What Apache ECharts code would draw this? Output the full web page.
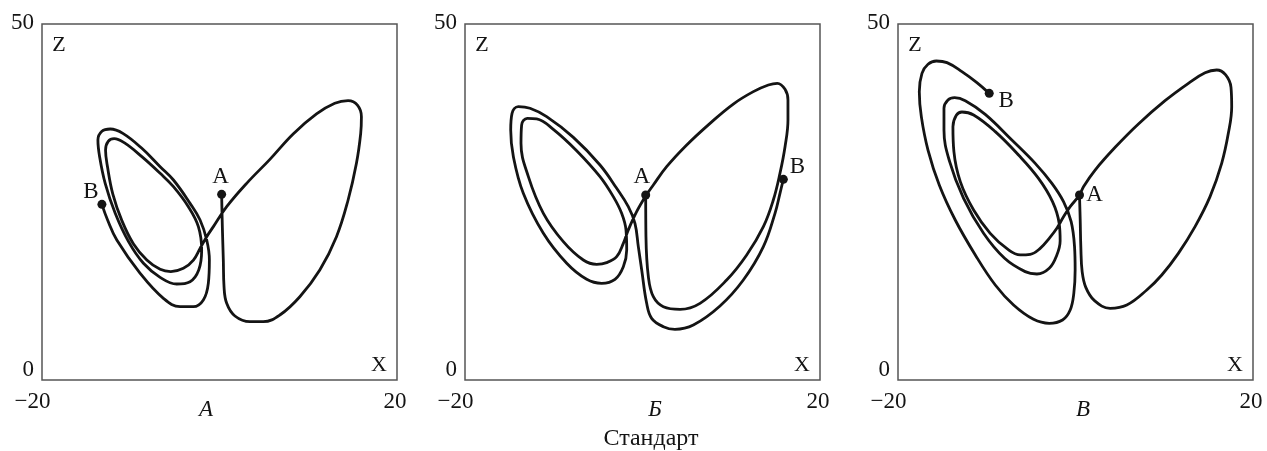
<!DOCTYPE html>
<html>
<head>
<meta charset="utf-8">
<title>Стандарт</title>
<script src="https://cdn.jsdelivr.net/npm/echarts@6/dist/echarts.min.js"></script>
<style>
  html, body { margin: 0; padding: 0; background: #fff; }
  #chart { width: 1267px; height: 451px; }
</style>
</head>
<body>
<div id="chart"></div>
<script>
// оси одинаковые для всех трёх панелей
const xTicks = [-20, 20]
const zTicks = [0, 50]
const panelNames = ['А', 'Б', 'В']
const pointNames = ['A', 'B']
const caption = 'Стандарт'

// траектории [x, z], от точки A к точке B
const trackA = [
  [0.24, 26.08], [0.32, 21.54], [0.43, 16.85], [0.51, 13.11], [0.81, 10.77], [1.74, 8.99],
  [3.43, 8.19], [4.93, 8.19], [6.80, 9.13], [9.05, 11.70], [11.30, 15.45], [13.18, 20.13],
  [14.49, 25.28], [15.43, 30.43], [15.91, 34.64], [15.99, 36.99], [15.54, 38.62], [14.49, 39.23],
  [12.99, 38.86], [10.93, 37.36], [8.30, 34.55], [5.68, 30.99], [3.06, 27.62], [0.81, 24.34],
  [-0.69, 21.54], [-1.44, 20.13], [-2.19, 18.49], [-2.94, 16.85], [-4.07, 15.68], [-5.49, 15.22],
  [-6.69, 15.54], [-8.19, 16.85], [-9.69, 19.10], [-11.00, 22.38], [-12.02, 26.12], [-12.61, 29.87],
  [-12.84, 32.30], [-12.54, 33.52], [-11.87, 33.90], [-10.74, 33.33], [-8.75, 31.37], [-6.69, 29.03],
  [-5.19, 27.15], [-3.51, 24.34], [-2.38, 21.54], [-2.01, 18.26], [-2.34, 15.45], [-3.32, 13.81],
  [-4.82, 13.48], [-6.69, 14.42], [-8.57, 16.39], [-10.25, 19.43], [-11.75, 23.41], [-12.88, 27.62],
  [-13.51, 31.37], [-13.70, 33.71], [-13.25, 34.93], [-12.31, 35.25], [-10.89, 34.64], [-8.75, 32.54],
  [-6.69, 29.96], [-5.19, 28.09], [-3.32, 24.81], [-2.19, 22.47], [-1.44, 19.66], [-1.14, 16.85],
  [-1.26, 13.58], [-1.82, 11.24], [-2.94, 10.30], [-4.44, 10.30], [-6.32, 11.47], [-8.94, 14.98],
  [-11.57, 19.66], [-12.61, 22.47], [-13.25, 24.67]
]

const trackB = [
  [0.36, 25.98], [0.39, 20.13], [0.66, 14.51], [1.22, 11.70], [2.35, 10.30], [4.23, 9.93],
  [6.48, 10.77], [9.48, 14.04], [11.74, 17.56], [13.62, 21.54], [14.74, 25.28], [15.49, 29.03],
  [16.06, 32.77], [16.39, 36.52], [16.39, 39.33], [16.06, 40.82], [15.19, 41.67], [14.18, 41.43],
  [12.49, 40.50], [10.23, 38.76], [7.61, 36.05], [4.98, 33.01], [2.72, 29.96], [1.22, 27.39],
  [0.36, 25.84], [-0.66, 23.64], [-1.60, 21.07], [-2.16, 19.19], [-2.91, 17.32], [-4.04, 16.48],
  [-5.16, 16.25], [-6.67, 16.85], [-8.92, 19.43], [-11.17, 23.41], [-12.86, 28.56], [-13.69, 33.24],
  [-13.62, 35.81], [-12.98, 36.75], [-11.92, 36.66], [-10.05, 35.21], [-7.42, 32.21], [-4.79, 28.56],
  [-3.29, 25.75], [-2.35, 23.41], [-1.86, 21.07], [-1.78, 18.26], [-2.16, 15.92], [-3.10, 14.14],
  [-4.60, 13.58], [-6.29, 14.14], [-8.54, 16.39], [-11.17, 20.60], [-13.43, 26.22], [-14.55, 31.37],
  [-14.85, 35.11], [-14.70, 37.45], [-13.99, 38.39], [-12.68, 38.16], [-10.80, 36.99], [-7.79, 34.08],
  [-4.79, 30.20], [-2.91, 26.92], [-1.60, 24.34], [-0.85, 22.00], [-0.47, 18.73], [-0.09, 15.45],
  [0.47, 10.77], [1.03, 8.66], [2.35, 7.49], [3.66, 7.12], [5.73, 7.72], [8.73, 10.39],
  [11.36, 14.04], [13.62, 18.73], [14.93, 23.41], [15.49, 26.22], [15.87, 28.18]
]

const trackV = [
  [0.45, 25.98], [0.53, 22.47], [0.60, 18.73], [0.75, 15.22], [1.16, 13.01], [2.14, 11.14],
  [3.90, 10.07], [5.78, 10.53], [8.03, 12.64], [9.72, 14.75], [11.59, 17.79], [13.47, 21.54],
  [15.16, 25.75], [16.47, 30.43], [17.22, 34.64], [17.60, 38.39], [17.52, 41.10], [16.92, 42.84],
  [15.91, 43.54], [14.60, 43.16], [12.72, 41.67], [10.09, 39.23], [7.09, 35.96], [4.47, 32.68],
  [2.21, 29.49], [0.90, 27.15], [0.45, 25.98], [-0.60, 24.34], [-1.35, 22.94], [-2.10, 21.30],
  [-2.96, 19.90], [-3.98, 18.49], [-5.10, 17.65], [-6.23, 17.56], [-7.54, 18.26], [-9.61, 20.60],
  [-11.48, 23.88], [-12.98, 27.86], [-13.70, 32.07], [-13.81, 35.58], [-13.43, 37.17], [-12.80, 37.64],
  [-11.48, 37.22], [-9.04, 34.88], [-6.42, 31.60], [-4.17, 28.32], [-2.59, 25.05], [-1.84, 22.00],
  [-1.73, 19.57], [-2.10, 17.56], [-2.96, 15.68], [-4.35, 14.89], [-5.67, 15.22], [-7.99, 17.09],
  [-10.36, 20.60], [-12.61, 25.51], [-14.18, 30.66], [-14.82, 35.11], [-14.82, 38.16], [-14.37, 39.33],
  [-13.62, 39.65], [-12.42, 39.23], [-10.17, 37.31], [-7.17, 33.71], [-4.54, 30.43], [-2.66, 27.62],
  [-1.35, 25.05], [-0.49, 22.24], [-0.11, 18.73], [-0.04, 15.45], [-0.19, 12.17], [-0.60, 9.83],
  [-1.46, 8.43], [-2.96, 7.96], [-4.73, 8.52], [-6.98, 10.53], [-9.04, 13.34], [-11.29, 17.56],
  [-13.55, 22.47], [-15.35, 27.39], [-16.62, 32.30], [-17.37, 36.99], [-17.60, 40.50], [-17.30, 43.07],
  [-16.62, 44.34], [-15.68, 44.80], [-14.48, 44.57], [-12.80, 43.31], [-11.11, 41.76], [-9.72, 40.26]
]

const tracks = [trackA, trackB, trackV]

// раскладка панелей (пиксели)
const FONT = '"Liberation Serif", "DejaVu Serif", serif'
const INK = '#141414'
const TOP = 24
const W = 355
const H = 356
const panels = [
  { left: 42, nameX: 206, offsets: [[-1, -17], [-11, -12]] },
  { left: 465, nameX: 655, offsets: [[-4, -18], [14, -12]] },
  { left: 898, nameX: 1083, offsets: [[15, 0], [17, 8]] }
]

const chart = echarts.init(document.getElementById('chart'))

const grids = []
const xAxes = []
const yAxes = []
const series = []
const graphic = []

tracks.forEach((track, i) => {
  const p = panels[i]
  grids.push({
    left: p.left, top: TOP, width: W, height: H,
    show: true, borderColor: '#555', borderWidth: 1.5
  })
  xAxes.push({
    gridIndex: i, type: 'value', min: xTicks[0], max: xTicks[1],
    axisLine: { show: false }, axisTick: { show: false }, splitLine: { show: false },
    axisLabel: {
      customValues: xTicks,
      margin: 10,
      formatter: (v) => v < 0 ? '{neg|−' + Math.abs(v) + '}' : '{pos|' + v + '}',
      rich: {
        neg: { fontSize: 23, fontFamily: FONT, color: INK, padding: [0, 19, 0, 0] },
        pos: { fontSize: 23, fontFamily: FONT, color: INK, padding: [0, 4, 0, 0] }
      }
    }
  })
  yAxes.push({
    gridIndex: i, type: 'value', min: zTicks[0], max: zTicks[1],
    axisLine: { show: false }, axisTick: { show: false }, splitLine: { show: false },
    axisLabel: {
      customValues: zTicks,
      margin: 8,
      formatter: (v) => v === 0 ? '{lo|0}' : '{hi|' + v + '}',
      rich: {
        lo: { fontSize: 23, fontFamily: FONT, color: INK, padding: [0, 0, 20, 0] },
        hi: { fontSize: 23, fontFamily: FONT, color: INK, padding: [0, 0, 3, 0] }
      }
    }
  })
  series.push({
    type: 'line', xAxisIndex: i, yAxisIndex: i,
    data: track, smooth: 0.4, symbol: 'none', silent: true,
    lineStyle: { color: INK, width: 2.8 }
  })
  const ends = [track[0], track[track.length - 1]]
  series.push({
    type: 'scatter', xAxisIndex: i, yAxisIndex: i,
    symbolSize: 9, silent: true, z: 3,
    itemStyle: { color: INK, opacity: 1 },
    label: {
      show: true, position: 'inside', formatter: '{b}',
      fontSize: 23, fontFamily: FONT, color: INK, opacity: 1, textBorderWidth: 0
    },
    data: ends.map((v, k) => ({ name: pointNames[k], value: v, label: { offset: p.offsets[k] } }))
  })
  graphic.push(
    { type: 'text', x: p.left + 17, y: 45, style: { text: 'Z', fontSize: 22, fontFamily: FONT, fill: INK, align: 'center', verticalAlign: 'middle' } },
    { type: 'text', x: p.left + W - 18, y: 365, style: { text: 'X', fontSize: 22, fontFamily: FONT, fill: INK, align: 'center', verticalAlign: 'middle' } },
    { type: 'text', x: p.nameX, y: 410, style: { text: panelNames[i], fontSize: 23, fontStyle: 'italic', fontFamily: FONT, fill: INK, align: 'center', verticalAlign: 'middle' } }
  )
})

graphic.push({
  type: 'text', x: 651, y: 439,
  style: { text: caption, fontSize: 24, fontFamily: FONT, fill: INK, align: 'center', verticalAlign: 'middle' }
})

chart.setOption({
  animation: false,
  backgroundColor: '#fff',
  grid: grids,
  xAxis: xAxes,
  yAxis: yAxes,
  series: series,
  graphic: graphic
})
</script>
</body>
</html>
